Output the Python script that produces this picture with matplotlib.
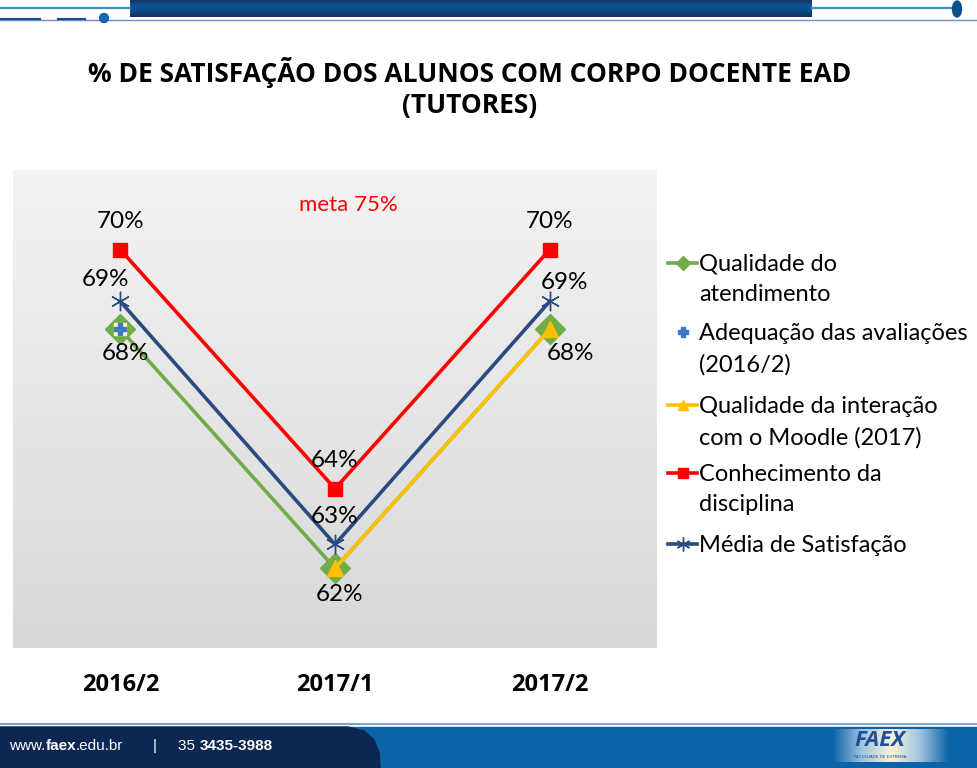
import numpy as np
import matplotlib
matplotlib.use("Agg")
import matplotlib.pyplot as plt
from matplotlib.patches import Rectangle, Ellipse, Polygon
from matplotlib.lines import Line2D

# data
periods = ["2016/2", "2017/1", "2017/2"]
qualidade_atendimento = [68.0, 62.0, 68.0]
adequacao_avaliacoes = [68.0, None, None]
qualidade_moodle = [None, 62.0, 68.0]
conhecimento_disciplina = [70.0, 64.0, 70.0]
media_satisfacao = [68.7, 62.6, 68.7]

# label text shown next to each point (rounded %)
media_labels = ["69%", "63%", "69%"]
green_labels = ["68%", "62%", "68%"]
red_labels = ["70%", "64%", "70%"]

legend_labels = ["Qualidade do\natendimento", "Adequação das avaliações\n(2016/2)",
                 "Qualidade da interação\ncom o Moodle (2017)", "Conhecimento da\ndisciplina",
                 "Média de Satisfação"]

GREEN = "#70ad47"
RED = "#ff0000"
YELLOW = "#ffc000"
NAVY = "#2b4a80"
PLUS_BLUE = "#3a78c8"
LABEL_FONT = ["Lato", "DejaVu Sans"]
BOLD_FONT = ["Open Sans", "DejaVu Sans"]

W, H = 978, 768
fig = plt.figure(figsize=(W / 100, H / 100), dpi=100)

# full-figure pixel axes for slide decorations
deco = fig.add_axes([0, 0, 1, 1], zorder=0)
deco.set_xlim(0, W)
deco.set_ylim(H, 0)
deco.axis("off")

# header
grad = np.linspace(0, 1, 50).reshape(-1, 1)
header_cmap = matplotlib.colors.LinearSegmentedColormap.from_list("hdr", ["#1b3566", "#0a5597", "#0d4a86", "#1a2f5c"])
deco.imshow(grad, cmap=header_cmap, extent=(130, 812, 17, 0), aspect="auto", zorder=1)
deco.plot([0, 130], [8, 8], color="#3a8fd0", lw=1.6, zorder=1)
deco.plot([812, 952], [8, 8], color="#3a8fd0", lw=1.6, zorder=1)
deco.add_patch(Ellipse((957, 9), 9, 16, color="#0b4f8a", zorder=2))
deco.plot([0, W], [20, 20], color="#6b8fc0", lw=1.0, zorder=1)
deco.plot([0, 40], [19, 19], color="#1f4f8a", lw=1.6, zorder=2)
deco.plot([58, 85], [19, 19], color="#1f4f8a", lw=1.6, zorder=2)
deco.add_patch(Ellipse((104, 18), 9, 9, color="#1565b0", zorder=2))

# footer
deco.plot([0, W], [724, 724], color="#7fa3c8", lw=1.5, zorder=1)
deco.add_patch(Rectangle((0, 727), W, 41, color="#0b64a8", zorder=1))
deco.add_patch(Polygon([(0, 727), (348, 727), (364, 731), (374, 740), (379, 752), (380, 768), (0, 768)],
                       closed=True, color="#0c2852", zorder=2))
foot_font = ["Liberation Sans Narrow", "Liberation Sans"]
t = deco.text(9, 746, "www.", color="white", fontsize=11, family=foot_font, va="center", zorder=3)
for piece, weight in [("faex", "bold"), (".edu.br", "normal")]:
    t = deco.annotate(piece, xy=(1, 0.5), xycoords=t, va="center", ha="left", color="white",
                      fontsize=11, family=foot_font, fontweight=weight, zorder=3)
deco.text(155, 746, "|", color="white", fontsize=11, family=foot_font, va="center", ha="center", zorder=3)
t = deco.text(178, 746, "35 ", color="white", fontsize=11, family=foot_font, va="center", zorder=3)
deco.annotate("3435-3988", xy=(1, 0.5), xycoords=t, va="center", ha="left", color="white",
              fontsize=11, family=foot_font, fontweight="bold", zorder=3)
logo_grad = np.abs(np.linspace(-1, 1, 60)).reshape(1, -1)
logo_cmap = matplotlib.colors.LinearSegmentedColormap.from_list("logo", ["#f4f1d8", "#9fc3e0", "#0b64a8"])
deco.imshow(logo_grad, cmap=logo_cmap, extent=(832, 950, 762, 729), aspect="auto", zorder=2)
deco.text(880, 741, "FAEX", color="#1d4f9a", fontsize=16, fontweight="bold", style="italic",
          family=BOLD_FONT, ha="center", va="center", zorder=3)
deco.text(880, 757, "FACULDADE DE EXTREMA", color="#1d4f9a", fontsize=3, ha="center", va="center", zorder=3)

# title
fig.text(470 / W, 1 - 88 / H, "% DE SATISFAÇÃO DOS ALUNOS COM CORPO DOCENTE EAD\n(TUTORES)",
         ha="center", va="center", fontsize=19, fontweight="bold", family=BOLD_FONT, linespacing=1.2)

# chart
ax = fig.add_axes([13 / W, (H - 648) / H, 644 / W, 478 / H], zorder=2)
x = np.arange(len(periods))
bg = np.linspace(0, 1, 100).reshape(-1, 1)
bg_cmap = matplotlib.colors.LinearSegmentedColormap.from_list("bg", ["#f3f3f3", "#d8d8d8"])
ax.imshow(bg, cmap=bg_cmap, extent=(-0.5, 2.5, 60, 72), origin="upper", aspect="auto", zorder=0)
ax.set_xlim(-0.5, 2.5)
ax.set_ylim(60, 72)


def to_arr(vals):
    return np.array([np.nan if v is None else v for v in vals], dtype=float)


ax.plot(x, to_arr(qualidade_atendimento), color=GREEN, lw=2.6, marker="D", ms=15, zorder=3)
ax.plot(x, to_arr(adequacao_avaliacoes), linestyle="none", marker="s", ms=9,
        mfc="#fff6cc", mec="#fff6cc", zorder=4)
ax.plot(x, to_arr(adequacao_avaliacoes), linestyle="none", marker="P", ms=8,
        color=PLUS_BLUE, zorder=5)
ax.plot(x, to_arr(qualidade_moodle), color=YELLOW, lw=2.6, marker="^", ms=11, zorder=4)
ax.plot(x, to_arr(conhecimento_disciplina), color=RED, lw=2.6, marker="s", ms=10, zorder=3)
ax.plot(x, to_arr(media_satisfacao), color=NAVY, lw=2.6, marker=(6, 2, 0), ms=14,
        mew=1.0, zorder=3)

lab_kw = dict(textcoords="offset pixels", ha="center", va="center", fontsize=17.5,
              family=LABEL_FONT, zorder=6)
red_off = [(0, 28), (0, 28), (0, 28)]
navy_off = [(-15, 22), (0, 28), (15, 19)]
green_off = [(5, -24), (5, -26), (21, -24)]
for i in range(len(periods)):
    ax.annotate(red_labels[i], (x[i], conhecimento_disciplina[i]), xytext=red_off[i], **lab_kw)
    ax.annotate(media_labels[i], (x[i], media_satisfacao[i]), xytext=navy_off[i], **lab_kw)
    ax.annotate(green_labels[i], (x[i], qualidade_atendimento[i]), xytext=green_off[i], **lab_kw)

ax.text(1.06, 71.12, "meta 75%", color=RED, fontsize=16, family=LABEL_FONT, ha="center", va="center")

ax.set_xticks(x)
ax.set_xticklabels(periods, fontsize=17, fontweight="bold", family=BOLD_FONT)
ax.tick_params(axis="x", length=0, pad=18)
ax.set_yticks([])
for s in ax.spines.values():
    s.set_visible(False)

# legend drawn by hand so markers sit on the first text line
handles = [dict(color=GREEN, marker="D", ms=7, ls="-"),
           dict(color=PLUS_BLUE, marker="P", ms=7, ls="none"),
           dict(color=YELLOW, marker="^", ms=7, ls="-"),
           dict(color=RED, marker="s", ms=7, ls="-"),
           dict(color=NAVY, marker=(6, 2, 0), ms=10, ls="-")]
entry_y = [263, 332, 405, 473, 544]
for lab, hk, yy in zip(legend_labels, handles, entry_y):
    deco.add_line(Line2D([668, 682.5, 697], [yy, yy, yy], lw=2.6, markevery=[1], zorder=4, **hk))
    deco.text(699, yy - 9, lab, fontsize=17, family=LABEL_FONT, ha="left", va="top",
              linespacing=1.55, zorder=4)

fig.savefig("out.png", dpi=100)
